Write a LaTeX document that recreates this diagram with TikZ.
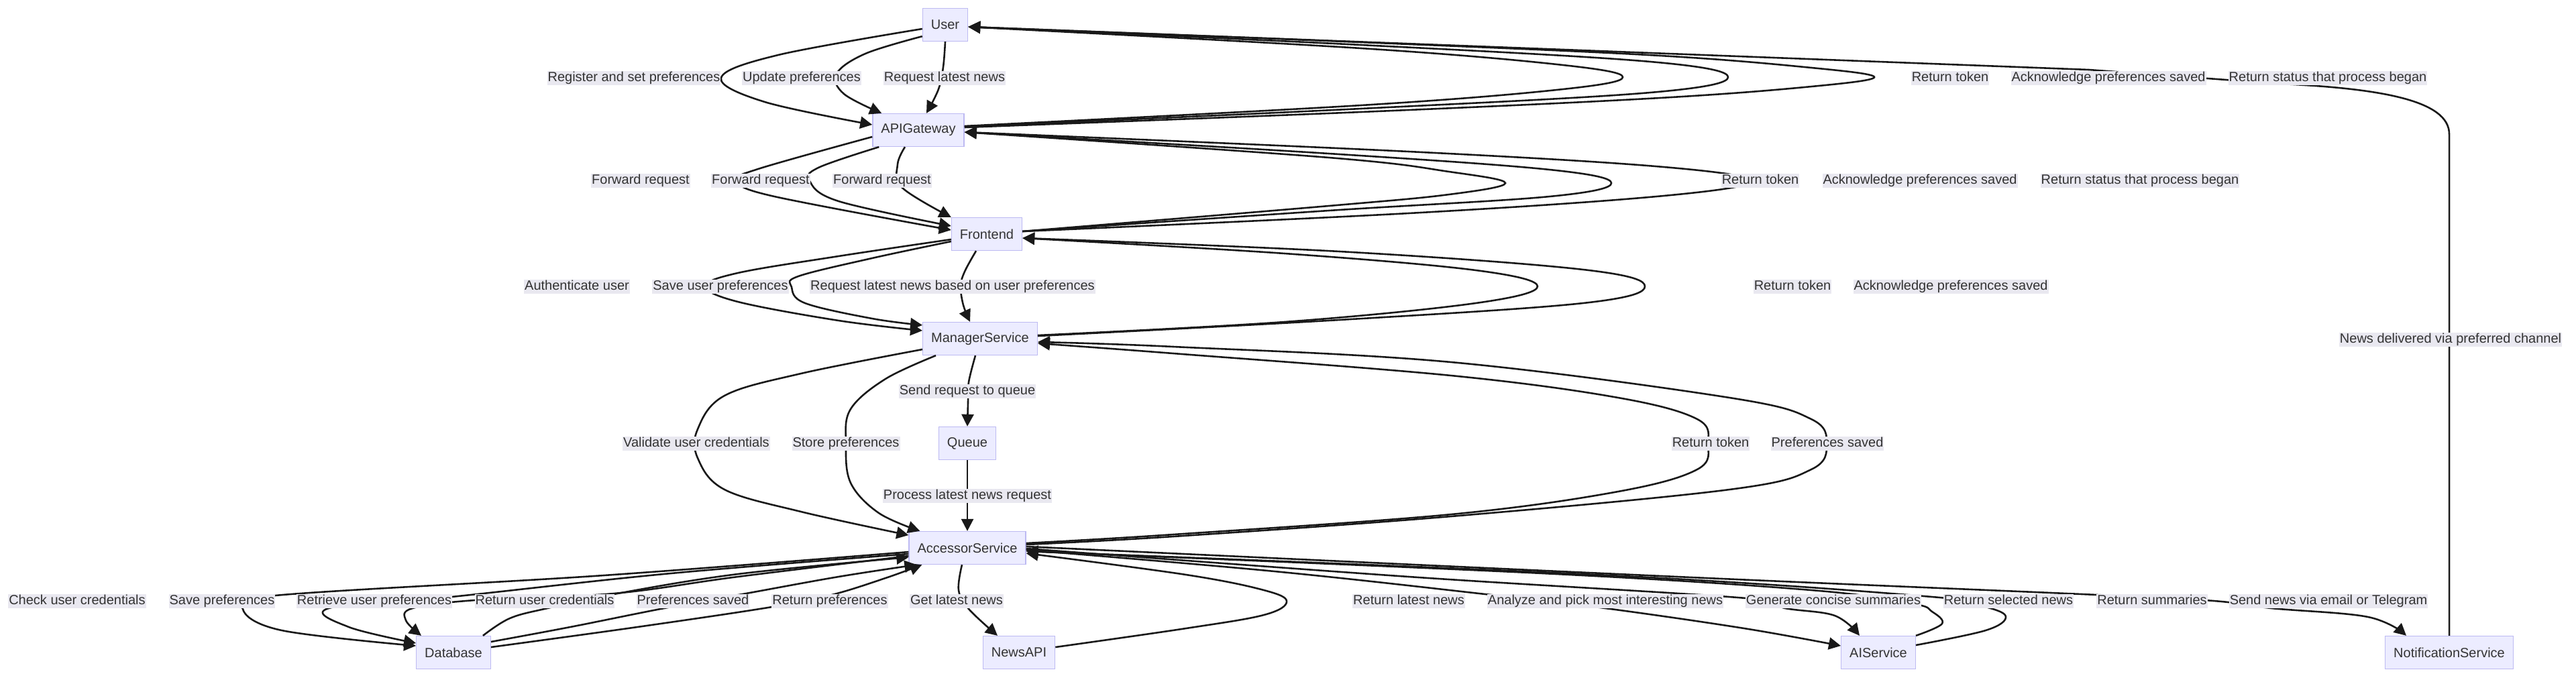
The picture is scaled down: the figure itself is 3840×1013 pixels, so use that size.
\documentclass[tikz,border=0pt]{standalone}
\usepackage{fontspec}
\setmainfont{Liberation Sans}
\usetikzlibrary{arrows.meta,calc}
\definecolor{boxbg}{HTML}{ECECFF}
\definecolor{boxline}{HTML}{BDBAF2}
\definecolor{lblbg}{HTML}{E9E8F0}
\definecolor{txt}{HTML}{333333}
\begin{document}
\begin{tikzpicture}[x=1pt,y=-1pt,
		every node/.style={font=\fontsize{20}{24}\selectfont,text=txt},
		box/.style={draw=boxline,fill=boxbg,line width=1.3pt,minimum height=49pt,inner xsep=12.5pt},
		lbl/.style={fill=lblbg,inner xsep=1pt,inner ysep=1.5pt,text height=14pt,text depth=4pt},
		link/.style={line width=2.6pt,draw=black!90,-{Triangle[length=18pt,width=18pt]}},
		curvy/.style={smooth,tension=0.6}]
	\useasboundingbox (0,0) rectangle (3840,1013);
	\node[box] (user) at (1409,37) {User};
	\node[box] (api) at (1369,194) {APIGateway};
	\node[box] (fe) at (1471,349) {Frontend};
	\node[box] (mgr) at (1461,505) {ManagerService};
	\node[box] (queue) at (1442,661) {Queue};
	\node[box] (acc) at (1442,817) {AccessorService};
	\node[box] (db) at (676,973) {Database};
	\node[box] (news) at (1519,973) {NewsAPI};
	\node[box] (ai) at (2800,973) {AIService};
	\node[box] (notif) at (3651,973) {NotificationService};

	\draw[link] plot[curvy] coordinates {($(user.west)+(0,6)$) (1160,82) (1075,116) (1140,152) ($(api.west)+(0,-8)$)};
	\draw[link] plot[curvy] coordinates {($(user.south west)+(0,-8)$) (1290,80) (1247,110) (1258,140) ($(api.north west)+(14,0)$)};
	\draw[link] plot[curvy] coordinates {(user.south) (1406,100) (1399,133) ($(api.north)+(12,0)$)};
	\draw[link] plot[curvy] coordinates {($(api.east)+(0,-6)$) (2029,157) (2330,133) (2419,115) (2330,97) (2029,72) ($(user.east)+(0,3)$)};
	\draw[link] plot[curvy] coordinates {($(api.east)+(0,-5)$) (2029,162) (2460,138) (2576,115) (2460,92) (2029,67) ($(user.east)+(0,3)$)};
	\draw[link] plot[curvy] coordinates {($(api.east)+(0,-4)$) (2029,167) (2457,147) (2690,130) (2794,115) (2690,100) (2457,82) (2029,63) ($(user.east)+(0,3)$)};
	\draw[link] (notif.north) -- (3651,200) .. controls (3651,150) and (3550,132) .. (3400,125) -- (3114,104) -- ($(user.east)+(0,3)$);

	\draw[link] plot[curvy] coordinates {($(api.west)+(0,10)$) (1130,252) (1100,269) (1150,292) ($(fe.west)+(0,-6)$)};
	\draw[link] plot[curvy] coordinates {($(api.south west)+(10,0)$) (1220,250) (1207,270) (1250,300) ($(fe.west)+(0,-12)$)};
	\draw[link] plot[curvy] coordinates {($(api.south)+(-20,0)$) (1338,245) (1345,280) (fe.north west)};
	\draw[link] plot[curvy] coordinates {($(fe.east)+(0,-4)$) (1981,307) (2160,290) (2244,273) (2160,256) (1981,235) ($(api.east)+(0,3)$)};
	\draw[link] plot[curvy] coordinates {($(fe.east)+(0,-4)$) (1981,314) (2310,293) (2402,273) (2310,253) (1981,229) ($(api.east)+(0,3)$)};
	\draw[link] plot[curvy] coordinates {($(fe.east)+(0,-4)$) (2100,318) (2480,292) (2610,270) (2480,249) (2100,226) ($(api.east)+(0,3)$)};

	\draw[link] plot[curvy] coordinates {($(fe.west)+(0,8)$) (1250,382) (1100,407) (1052,427) (1100,450) (1250,478) ($(mgr.west)+(0,-12)$)};
	\draw[link] plot[curvy] coordinates {($(fe.west)+(0,11)$) (1300,385) (1190,412) (1180,428) (1200,452) (1300,475) ($(mgr.north west)+(0,5)$)};
	\draw[link] plot[curvy] coordinates {($(fe.south)+(-16,0)$) (1438,405) (1432,427) (1436,455) ($(mgr.north)+(-15,0)$)};
	\draw[link] plot[curvy] coordinates {($(mgr.east)+(0,-5)$) (1915,480) (2200,452) (2292,427) (2200,403) (1915,378) ($(fe.east)+(0,6)$)};
	\draw[link] plot[curvy] coordinates {($(mgr.east)+(0,-4)$) (1997,477) (2360,452) (2452,427) (2360,402) (1997,375) ($(fe.east)+(0,6)$)};

	\draw[link] plot[curvy] coordinates {($(mgr.west)+(0,16)$) (1194,557) (1080,590) (1040,640) (1040,683) (1080,730) (1194,763) ($(acc.west)+(0,-19)$)};
	\draw[link] plot[curvy] coordinates {($(mgr.south west)+(20,0)$) (1320,565) (1268,610) (1261,661) (1268,720) (1310,765) ($(acc.north west)+(17,0)$)};
	\draw[link] plot[curvy] coordinates {($(mgr.south)+(-7,0)$) (1444,570) (1443,600) (queue.north)};
	\draw[link] (queue.south) -- (acc.north);
	\draw[link] plot[curvy] coordinates {($(acc.east)+(0,-7)$) (1749,797) (2163,767) (2412,733) (2530,700) (2546,662) (2530,625) (2412,593) (2163,560) (1749,527) ($(mgr.east)+(0,7)$)};
	\draw[link] plot[curvy] coordinates {($(acc.east)+(0,-5)$) (1749,800) (2163,770) (2578,730) (2700,700) (2723,662) (2700,625) (2578,593) (2163,540) (1749,517) ($(mgr.east)+(0,5)$)};

	\draw[link] plot[curvy] coordinates {($(acc.west)+(0,6)$) (900,858) (410,888) (362,908) (420,940) ($(db.west)+(0,-10)$)};
	\draw[link] plot[curvy] coordinates {($(acc.west)+(0,9)$) (1000,855) (673,890) (490,907) (520,935) ($(db.west)+(0,-14)$)};
	\draw[link] plot[curvy] coordinates {($(acc.west)+(0,12)$) (1100,860) (915,885) (708,895) (615,907) (605,925) ($(db.north west)+(8,0)$)};
	\draw[link] plot[curvy] coordinates {($(db.north east)+(-12,0)$) (760,922) (816,907) (915,886) (1100,856) ($(acc.west)+(0,14)$)};
	\draw[link] plot[curvy] coordinates {($(db.east)+(0,-16)$) (850,935) (990,907) (1112,885) (1250,860) ($(acc.south west)+(12,0)$)};
	\draw[link] plot[curvy] coordinates {($(db.east)+(0,-8)$) (950,935) (1151,905) (1240,887) (1320,862) ($(acc.south west)+(20,0)$)};

	\draw[link] plot[curvy] coordinates {($(acc.south)+(-8,0)$) (1429,880) (1444,908) ($(news.north)+(-32,0)$)};
	\draw[link] plot[curvy] coordinates {($(news.east)+(0,-8)$) (1768,937) (1884,917) (1918,897) (1884,880) (1768,857) ($(acc.east)+(0,8)$)};
	\draw[link] plot[curvy] coordinates {($(acc.east)+(0,3)$) (1900,852) (2214,886) (2393,907) (2600,937) ($(ai.west)+(0,-10)$)};
	\draw[link] plot[curvy] coordinates {($(acc.east)+(0,1)$) (2100,860) (2603,892) (2661,907) (2735,918) ($(ai.north)+(-28,0)$)};
	\draw[link] plot[curvy] coordinates {(ai.north east) (2895,930) (2880,912) (2850,900) (2700,880) (2300,855) ($(acc.east)+(0,5)$)};
	\draw[link] plot[curvy] coordinates {($(ai.east)+(0,-11)$) (2960,940) (2990,920) (2960,905) (2880,890) (2400,858) ($(acc.east)+(0,5)$)};
	\draw[link] plot[curvy] coordinates {($(acc.east)+(0,-2)$) (2500,860) (3126,887) (3300,896) (3386,907) (3530,920) ($(notif.north west)+(32,0)$)};

	\node[lbl] (l1) at (945,116) {Register and set preferences};
	\node[lbl] (l2) at (1195,116) {Update preferences};
	\node[lbl] (l3) at (1408,116) {Request latest news};
	\node[lbl] (l4) at (2907,116) {Return token};
	\node[lbl] (l5) at (3143,116) {Acknowledge preferences saved};
	\node[lbl] (l6) at (3470,116) {Return status that process began};
	\node[lbl] (l7) at (955,269) {Forward request};
	\node[lbl] (l8) at (1134,269) {Forward request};
	\node[lbl] (l9) at (1315,269) {Forward request};
	\node[lbl] (l10) at (2624,269) {Return token};
	\node[lbl] (l11) at (2862,269) {Acknowledge preferences saved};
	\node[lbl] (l12) at (3190,269) {Return status that process began};
	\node[lbl] (l13) at (860,427) {Authenticate user};
	\node[lbl] (l14) at (1074,427) {Save user preferences};
	\node[lbl] (l15) at (1420,427) {Request latest news based on user preferences};
	\node[lbl] (l16) at (2672,427) {Return token};
	\node[lbl] (l17) at (2908,427) {Acknowledge preferences saved};
	\node[lbl] (l18) at (3653,506) {News delivered via preferred channel};
	\node[lbl] (l19) at (1442,583) {Send request to queue};
	\node[lbl] (l20) at (1038,661) {Validate user credentials};
	\node[lbl] (l21) at (1261,661) {Store preferences};
	\node[lbl] (l22) at (2550,661) {Return token};
	\node[lbl] (l23) at (2724,661) {Preferences saved};
	\node[lbl] (l24) at (1442,739) {Process latest news request};
	\node[lbl] (l25) at (115,896) {Check user credentials};
	\node[lbl] (l26) at (331,896) {Save preferences};
	\node[lbl] (l27) at (558,896) {Retrieve user preferences};
	\node[lbl] (l28) at (812,896) {Return user credentials};
	\node[lbl] (l29) at (1033,896) {Preferences saved};
	\node[lbl] (l30) at (1237,896) {Return preferences};
	\node[lbl] (l31) at (1426,896) {Get latest news};
	\node[lbl] (l32) at (2100,896) {Return latest news};
	\node[lbl] (l33) at (2393,896) {Analyze and pick most interesting news};
	\node[lbl] (l34) at (2733,896) {Generate concise summaries};
	\node[lbl] (l35) at (2994,896) {Return selected news};
	\node[lbl] (l36) at (3208,896) {Return summaries};
	\node[lbl] (l37) at (3471,896) {Send news via email or Telegram};
\end{tikzpicture}
\end{document}
